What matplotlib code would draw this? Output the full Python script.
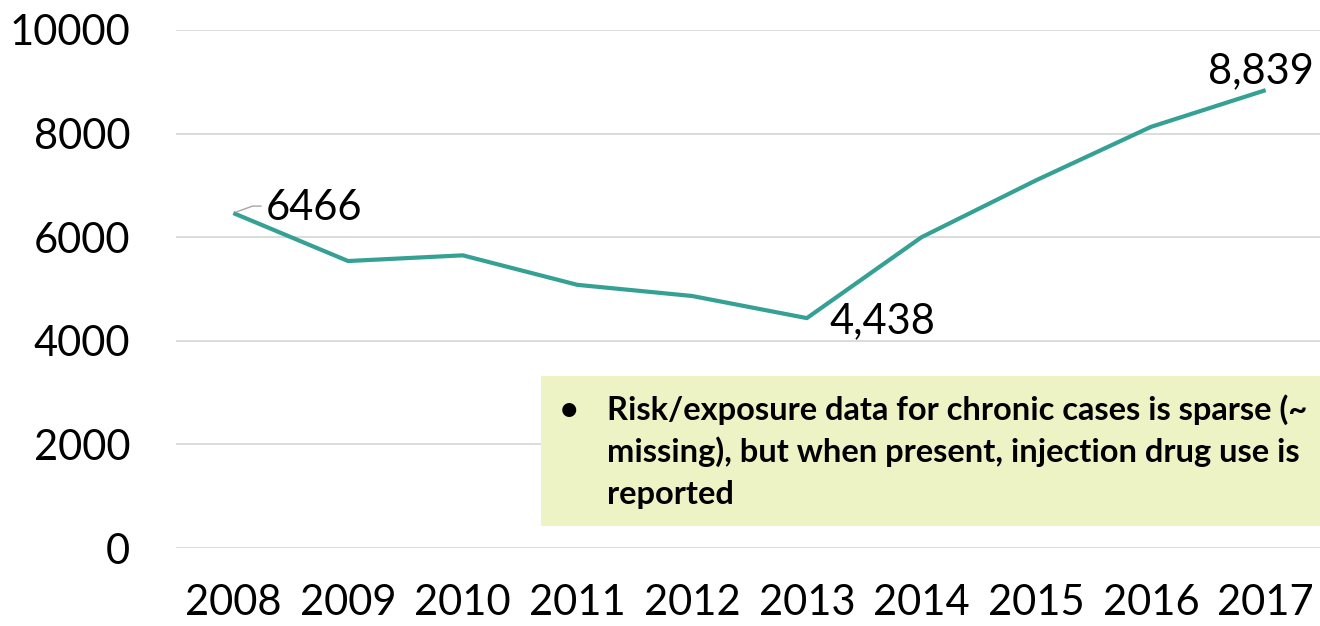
import matplotlib
matplotlib.use("Agg")
import matplotlib.pyplot as plt
from matplotlib.patches import Rectangle

plt.rcParams['font.family'] = ['Lato', 'DejaVu Sans']

years = ['2008', '2009', '2010', '2011', '2012', '2013', '2014', '2015', '2016', '2017']
cases = [6466, 5540, 5650, 5080, 4865, 4438, 6000, 7100, 8130, 8839]
yticks = [0, 2000, 4000, 6000, 8000, 10000]
note_lines = ["Risk/exposure data for chronic cases is sparse (~",
              "missing), but when present, injection drug use is",
              "reported"]

W, H = 1320, 626
fig = plt.figure(figsize=(W / 100, H / 100), dpi=100)
ax = fig.add_axes([176 / W, 1 - 548 / H, (1323 - 176) / W, (548 - 30) / H])

x = list(range(len(years)))
ax.plot(x, cases, color='#35A094', lw=3.0, solid_capstyle='butt', zorder=3)

ax.set_xlim(-0.5, len(years) - 0.5)
ax.set_ylim(0, 10000)
ax.set_yticks(yticks)
ax.set_yticklabels([str(v) for v in yticks])
ax.set_xticks(x)
ax.set_xticklabels(years)
ax.grid(axis='y', color='#D9D9D9', lw=1.3)
ax.set_axisbelow(True)
for s in ax.spines.values():
    s.set_visible(False)
ax.tick_params(axis='y', length=0, pad=33, labelsize=30)
ax.tick_params(axis='x', length=0, pad=26, labelsize=30)

# value labels
ax.annotate(f"{cases[0]}", xy=(x[0], cases[0]), xytext=(23, -5),
            textcoords='offset points', fontsize=30, va='baseline', ha='left',
            arrowprops=dict(arrowstyle='-', color='#A6A6A6', lw=1.0,
                            connectionstyle='angle,angleA=180,angleB=20,rad=0',
                            relpos=(0, 0.55), shrinkA=1, shrinkB=2))
ax.annotate(f"{cases[5]:,}", xy=(x[5], cases[5]), xytext=(16.5, -11),
            textcoords='offset points', fontsize=30, va='baseline', ha='left')
ax.annotate(f"{cases[9]:,}", xy=(x[9], cases[9]), xytext=(34.5, 5),
            textcoords='offset points', fontsize=30, va='baseline', ha='right')

# note box
fig.patches.append(Rectangle((541 / W, 1 - 526 / H), 0.6, 150 / H,
                             transform=fig.transFigure, facecolor='#EEF3C5',
                             edgecolor='none', zorder=5))
fig.text(560 / W, 1 - 420 / H, "\u2022", fontsize=23, fontweight='bold',
         va='baseline', ha='left', zorder=6)
for i, line in enumerate(note_lines):
    fig.text(607 / W, 1 - (420 + 42 * i) / H, line, fontsize=23.5,
             fontweight='bold', va='baseline', ha='left', zorder=6)

fig.savefig('out.png', dpi=100)
